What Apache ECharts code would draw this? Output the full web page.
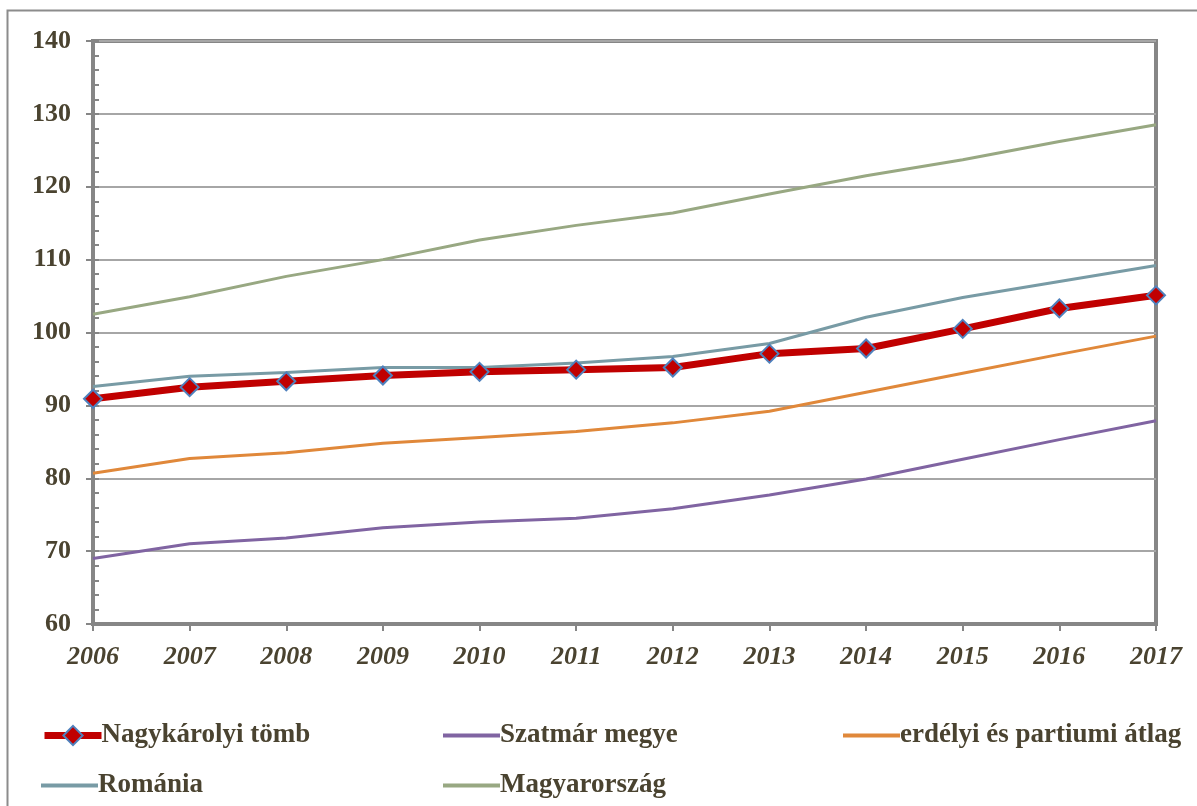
<!DOCTYPE html>
<html>
<head>
<meta charset="utf-8">
<script src="https://cdn.jsdelivr.net/npm/echarts@6/dist/echarts.min.js"></script>
<style>
  html, body { margin: 0; padding: 0; background: #fff; }
  #chart { width: 1197px; height: 806px; }
</style>
</head>
<body>
<div id="chart"></div>
<script>
// adatok
const years = ["2006", "2007", "2008", "2009", "2010", "2011", "2012", "2013", "2014", "2015", "2016", "2017"];
const nagykaroly = [90.9, 92.5, 93.3, 94.1, 94.6, 94.9, 95.2, 97.1, 97.8, 100.5, 103.3, 105.1];
const szatmar = [69.0, 71.0, 71.8, 73.2, 74.0, 74.5, 75.8, 77.7, 79.9, 82.6, 85.3, 87.9];
const erdelyi = [80.7, 82.7, 83.5, 84.8, 85.6, 86.4, 87.6, 89.2, 91.8, 94.4, 97.0, 99.5];
const romania = [92.6, 94.0, 94.5, 95.2, 95.2, 95.8, 96.7, 98.5, 102.1, 104.8, 107.0, 109.2];
const magyar = [102.5, 104.9, 107.7, 110.0, 112.7, 114.7, 116.4, 119.0, 121.5, 123.7, 126.2, 128.5];

const textColor = "#4a4330";
const axisGray = "#868686";
const font = "'Liberation Serif', 'Times New Roman', serif";

const chart = echarts.init(document.getElementById("chart"));

function legendAt(name, left, top, plain) {
  const lg = {
    data: [name],
    left: left,
    top: top,
    itemWidth: 57,
    itemHeight: plain ? 4 : 24,
    itemGap: 0,
    textStyle: { fontFamily: font, fontSize: 27, fontWeight: "bold", color: textColor, padding: [0, 0, 0, -5] },
  };
  if (plain) lg.icon = "rect";
  else lg.lineStyle = { width: 7 };
  return lg;
}

function plainLine(name, data, color) {
  return {
    name: name,
    type: "line",
    data: data,
    symbol: "none",
    lineStyle: { color: color, width: 3 },
    itemStyle: { color: color },
  };
}

const option = {
  animation: false,
  graphic: [
    {
      type: "rect",
      shape: { x: 7.5, y: 10.5, width: 1210, height: 820 },
      style: { fill: "none", stroke: "#8c8c8c", lineWidth: 2 },
      silent: true,
    },
  ],
  legend: [
    legendAt("Nagykárolyi tömb", 36, 717, false),
    legendAt("Szatmár megye", 438, 717, true),
    legendAt("erdélyi és partiumi átlag", 838, 717, true),
    legendAt("Románia", 36, 767, true),
    legendAt("Magyarország", 438, 767, true),
  ],
  grid: {
    left: 93,
    right: 41,
    top: 41,
    bottom: 182,
    show: true,
    borderColor: axisGray,
    borderWidth: 4,
    containLabel: false,
  },
  xAxis: {
    type: "category",
    data: years,
    boundaryGap: false,
    axisLine: { lineStyle: { color: axisGray, width: 4 } },
    axisTick: { show: true, inside: false, length: 7, lineStyle: { color: axisGray, width: 2 } },
    axisLabel: {
      fontFamily: font,
      fontSize: 26,
      fontWeight: "bold",
      fontStyle: "italic",
      color: textColor,
      margin: 20,
    },
    splitLine: { show: false },
  },
  yAxis: [
    {
      type: "value",
      min: 60,
      max: 140,
      interval: 10,
      axisLine: { show: true, lineStyle: { color: axisGray, width: 4 } },
      axisTick: { show: true, inside: true, length: 6, lineStyle: { color: axisGray, width: 2 } },
      minorTick: { show: true, splitNumber: 5, length: 6, lineStyle: { color: axisGray, width: 2 } },
      axisLabel: {
        fontFamily: font,
        fontSize: 26,
        fontWeight: "bold",
        color: textColor,
        margin: 22,
      },
      splitLine: { show: true, lineStyle: { color: "#a6a6a6", width: 2 } },
    },
    {
      // csak a külső fő osztásjelekhez
      type: "value",
      position: "left",
      min: 60,
      max: 140,
      interval: 10,
      axisLine: { show: false },
      axisTick: { show: true, inside: false, length: 7, lineStyle: { color: axisGray, width: 2 } },
      axisLabel: { show: false },
      splitLine: { show: false },
    },
  ],
  series: [
    plainLine("Magyarország", magyar, "#98a882"),
    plainLine("Szatmár megye", szatmar, "#8064a2"),
    plainLine("erdélyi és partiumi átlag", erdelyi, "#e0883a"),
    plainLine("Románia", romania, "#789ba5"),
    {
      name: "Nagykárolyi tömb",
      type: "line",
      data: nagykaroly,
      symbol: "diamond",
      symbolSize: 18,
      lineStyle: { color: "#c00000", width: 7 },
      itemStyle: { color: "#c00000", borderColor: "#4f81bd", borderWidth: 2 },
      z: 5,
    },
  ],
};

chart.setOption(option);
</script>
</body>
</html>
